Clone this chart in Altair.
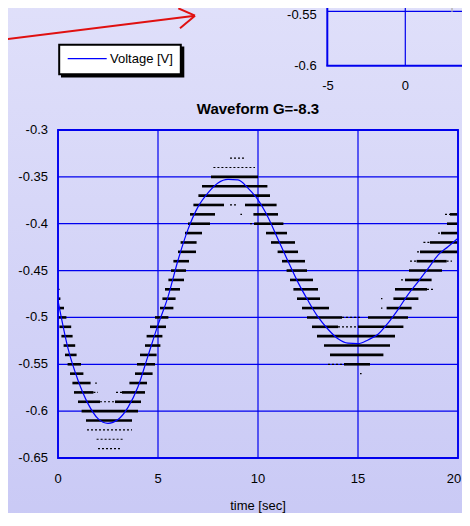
import altair as alt
import pandas as pd

# ---------------- data ----------------
x_ticks = [0, 5, 10, 15, 20]
y_ticks = [-0.65, -0.6, -0.55, -0.5, -0.45, -0.4, -0.35, -0.3]

series_name = "Voltage [V]"
chart_title = "Waveform G=-8.3"
x_title = "time [sec]"

# blue smoothed voltage curve
line_t = [0, 0.5, 1, 1.5, 2, 2.5, 3, 3.5, 4, 4.5, 5, 5.5, 6, 6.5, 7, 7.5, 8, 8.5,
          9, 9.5, 10, 10.5, 11, 11.5, 12, 12.5, 13, 13.5, 14, 14.5, 15, 15.5, 16,
          16.5, 17, 17.5, 18, 18.5, 19, 19.5, 20]
line_v = [-0.482, -0.533, -0.567, -0.592, -0.608, -0.613, -0.609, -0.596, -0.574,
          -0.541, -0.508, -0.478, -0.439, -0.406, -0.382, -0.367, -0.3565, -0.3527,
          -0.3533, -0.362, -0.3746, -0.393, -0.4165, -0.440, -0.4626, -0.482,
          -0.4995, -0.5126, -0.5228, -0.5275, -0.528, -0.524, -0.518, -0.506,
          -0.4916, -0.4756, -0.462, -0.448, -0.4335, -0.4245, -0.4155]

# quantised raw samples: dense runs (level, t start, t end)
thick_dashes = [
    (-0.48, 0.0, 0.12), (-0.49, 0.0, 0.3), (-0.50, 0.0, 0.42), (-0.51, 0.07, 0.66),
    (-0.52, 0.17, 0.73), (-0.53, 0.28, 0.86), (-0.54, 0.35, 0.93), (-0.55, 0.48, 1.15),
    (-0.56, 0.6, 1.27), (-0.57, 0.72, 1.63), (-0.58, 0.8, 1.77), (-0.59, 1.0, 2.1),
    (-0.59, 2.85, 4.15), (-0.60, 1.18, 4.0), (-0.61, 1.4, 3.7), (-0.58, 3.2, 4.35),
    (-0.57, 3.57, 4.45), (-0.56, 3.85, 4.73), (-0.55, 3.95, 4.85), (-0.54, 4.1, 4.93),
    (-0.53, 4.35, 5.12), (-0.52, 4.43, 5.22), (-0.51, 4.6, 5.4), (-0.50, 4.85, 5.52),
    (-0.49, 5.1, 5.77), (-0.48, 5.22, 5.88), (-0.47, 5.35, 6.1), (-0.46, 5.52, 6.3),
    (-0.45, 5.65, 6.4), (-0.44, 5.77, 6.55), (-0.43, 6.0, 6.9), (-0.42, 6.13, 6.93),
    (-0.41, 6.35, 7.2), (-0.40, 6.5, 7.6), (-0.39, 6.6, 7.85), (-0.38, 6.77, 8.3),
    (-0.37, 7.02, 10.6), (-0.36, 7.2, 10.47), (-0.35, 7.65, 10.0), (-0.38, 9.35, 10.93),
    (-0.39, 9.77, 11.0), (-0.40, 9.8, 11.27), (-0.41, 10.4, 11.45), (-0.42, 10.65, 11.85),
    (-0.43, 10.98, 12.0), (-0.44, 11.2, 12.35), (-0.45, 11.43, 12.45), (-0.46, 11.6, 12.75),
    (-0.47, 11.77, 13.0), (-0.48, 11.95, 13.1), (-0.49, 12.2, 13.55), (-0.50, 12.45, 14.2),
    (-0.51, 12.7, 14.0), (-0.51, 15.0, 17.27), (-0.52, 12.95, 16.85), (-0.53, 13.3, 16.6),
    (-0.54, 13.6, 16.27), (-0.55, 14.3, 15.6), (-0.50, 15.5, 17.5), (-0.49, 16.43, 17.68),
    (-0.48, 16.77, 18.02), (-0.47, 16.85, 18.45), (-0.46, 17.35, 18.68), (-0.45, 17.55, 19.2),
    (-0.44, 17.93, 19.43), (-0.43, 18.1, 20.0), (-0.42, 18.6, 20.0), (-0.41, 19.15, 20.0),
    (-0.40, 19.45, 20.0), (-0.39, 19.6, 20.0),
]
# sparse runs / isolated samples (level, t start, t end)
thin_dashes = [
    (-0.47, 0.0, 0.08), (-0.57, 1.86, 1.94), (-0.58, 1.77, 2.0), (-0.58, 2.9, 3.2),
    (-0.59, 2.1, 2.85), (-0.62, 1.45, 3.7), (-0.63, 1.93, 3.3), (-0.64, 2.0, 3.15),
    (-0.38, 8.6, 9.0), (-0.39, 9.12, 9.2), (-0.34, 7.77, 9.85), (-0.33, 8.6, 9.35),
    (-0.40, 9.6, 9.8), (-0.50, 14.2, 15.2), (-0.51, 14.0, 15.0), (-0.55, 13.5, 14.3),
    (-0.56, 15.1, 15.18), (-0.49, 16.15, 16.22), (-0.48, 16.15, 16.22),
    (-0.47, 18.45, 18.77), (-0.46, 17.15, 17.25), (-0.44, 17.6, 17.93),
    (-0.44, 19.43, 19.7), (-0.43, 17.95, 18.1), (-0.42, 18.27, 18.6),
    (-0.41, 19.0, 19.15), (-0.39, 19.35, 19.6),
]

# fragment of the neighbouring chart (top right)
inset_y_labels = ["-0.55", "-0.6"]
inset_x_labels = ["-5", "0"]

# ---------------- chart ----------------
W, H = 400, 328
FONT = "Liberation Sans"
BLUE = "#0000ee"

xs = alt.Scale(domain=[x_ticks[0], x_ticks[-1]], nice=False, zero=False)
ys = alt.Scale(domain=[y_ticks[0], y_ticks[-1]], nice=False, zero=False)

line_df = pd.DataFrame({"t": line_t, "v": line_v})
thick_df = pd.DataFrame(thick_dashes, columns=["level", "t0", "t1"])
thin_df = pd.DataFrame(thin_dashes, columns=["level", "t0", "t1"])
xg_df = pd.DataFrame({"gx": x_ticks, "lab": [f"{v:g}" for v in x_ticks]})
yg_df = pd.DataFrame({"gy": y_ticks, "lab": [f"{v:g}" for v in y_ticks]})
one = pd.DataFrame({"k": [0]})

grad = alt.LinearGradient(
    gradient="linear",
    stops=[alt.GradientStop(color="#e0e0fa", offset=0),
           alt.GradientStop(color="#c9c9f5", offset=1)],
    x1=0, x2=0, y1=0, y2=1,
)
bg = alt.Chart(one).mark_rect(fill=grad).encode(
    x=alt.value(-60), x2=alt.value(420), y=alt.value(-140), y2=alt.value(400))

vgrid = alt.Chart(xg_df).mark_rule(color=BLUE, strokeWidth=1.2).encode(
    x=alt.X("gx:Q", scale=xs, axis=None))
hgrid = alt.Chart(yg_df).mark_rule(color=BLUE, strokeWidth=1.2).encode(
    y=alt.Y("gy:Q", scale=ys, axis=None))
frame = alt.Chart(one).mark_rect(fill=None, stroke=BLUE, strokeWidth=1.8).encode(
    x=alt.datum(x_ticks[0], scale=xs, axis=None), x2=alt.datum(x_ticks[-1]),
    y=alt.datum(y_ticks[0], scale=ys, axis=None), y2=alt.datum(y_ticks[-1]))

# tick labels drawn through the scales (last one nudged in to stay on the page)
xlab = alt.Chart(xg_df.iloc[:-1]).mark_text(
    align="center", baseline="alphabetic", font=FONT, fontSize=13,
    color="#000000").encode(
    x=alt.X("gx:Q", scale=xs, axis=None), y=alt.value(H + 25), text="lab:N")
xlab_last = alt.Chart(xg_df.iloc[-1:]).mark_text(
    align="center", baseline="alphabetic", font=FONT, fontSize=13, dx=-4,
    color="#000000").encode(
    x=alt.X("gx:Q", scale=xs, axis=None), y=alt.value(H + 25), text="lab:N")
ylab = alt.Chart(yg_df).mark_text(
    align="right", baseline="middle", font=FONT, fontSize=13, dx=-10,
    color="#000000").encode(
    y=alt.Y("gy:Q", scale=ys, axis=None), x=alt.value(0), text="lab:N")

thin = alt.Chart(thin_df).mark_rule(color="#000000", strokeWidth=1.2,
                                    strokeDash=[2, 2]).encode(
    x=alt.X("t0:Q", scale=xs, axis=None), x2="t1:Q",
    y=alt.Y("level:Q", scale=ys, axis=None))
thick = alt.Chart(thick_df).mark_rule(color="#000000", strokeWidth=2.6).encode(
    x=alt.X("t0:Q", scale=xs, axis=None), x2="t1:Q",
    y=alt.Y("level:Q", scale=ys, axis=None))

line = alt.Chart(line_df).mark_line(color="#0000ff", strokeWidth=1.2,
                                    interpolate="monotone").encode(
    x=alt.X("t:Q", scale=xs, axis=None),
    y=alt.Y("v:Q", scale=ys, axis=None),
)


def seg(x1, y1, x2, y2, color, width):
    return alt.Chart(one).mark_rule(color=color, strokeWidth=width).encode(
        x=alt.value(x1), y=alt.value(y1), x2=alt.value(x2), y2=alt.value(y2))


def box(x1, y1, x2, y2, **kw):
    return alt.Chart(one).mark_rect(**kw).encode(
        x=alt.value(x1), y=alt.value(y1), x2=alt.value(x2), y2=alt.value(y2))


def label(x, y, txt, align="left", size=13, weight="normal", baseline="middle"):
    return alt.Chart(one).mark_text(
        align=align, baseline=baseline, font=FONT, fontSize=size,
        fontWeight=weight, color="#000000").encode(
        x=alt.value(x), y=alt.value(y), text=alt.value(txt))


titles = [
    label(W / 2, -16.3, chart_title, align="center", size=15, weight="bold",
          baseline="alphabetic"),
    label(W / 2, H + 52, x_title, align="center", baseline="alphabetic"),
]

# neighbouring chart fragment
inset = [
    seg(269.3, -118.7, 420, -118.7, BLUE, 1.2),
    seg(347.3, -140, 347.3, -64.3, BLUE, 1.2),
    seg(269.3, -140, 269.3, -64.3, BLUE, 2),
    seg(268.3, -64.3, 420, -64.3, BLUE, 2),
    seg(394, -140, 394, -118.3, "#b8b8b8", 1.6),
    box(391.5, -140, 398.5, -127.3, fill="#bdbdbd"),
    label(258.7, -114.8, inset_y_labels[0], align="right"),
    label(258.7, -64.3, inset_y_labels[1], align="right"),
    label(270, -44.5, inset_x_labels[0], align="center"),
    label(347.3, -44.5, inset_x_labels[1], align="center"),
]

# legend box with shadow
legend = [
    box(3, -83.5, 126.3, -52.5, fill="#000000"),
    box(1.2, -85.3, 122.8, -55.8, fill="#ffffff", stroke="#000000", strokeWidth=2),
    seg(9.7, -71.3, 48.7, -71.3, "#0000ff", 1.2),
    label(52, -71, series_name),
]

# red arrow
RED = "#e01010"
arrow = [
    seg(-58, -90, 137, -114.3, RED, 2),
    seg(137, -114.3, 120.3, -121.7, RED, 2),
    seg(137, -114.3, 122, -101.7, RED, 2),
]

chart = alt.layer(
    bg, vgrid, hgrid, thin, thick, line, frame, xlab, xlab_last, ylab,
    *titles, *inset, *legend, *arrow
).properties(
    width=W, height=H,
    autosize=alt.AutoSizeParams(type="none"),
    padding={"left": 50, "top": 122, "right": 4, "bottom": 55},
).configure_view(stroke=None).configure(background="#d0d0f6")

chart.save("out.html", embed_options={"renderer": "svg", "actions": False})
